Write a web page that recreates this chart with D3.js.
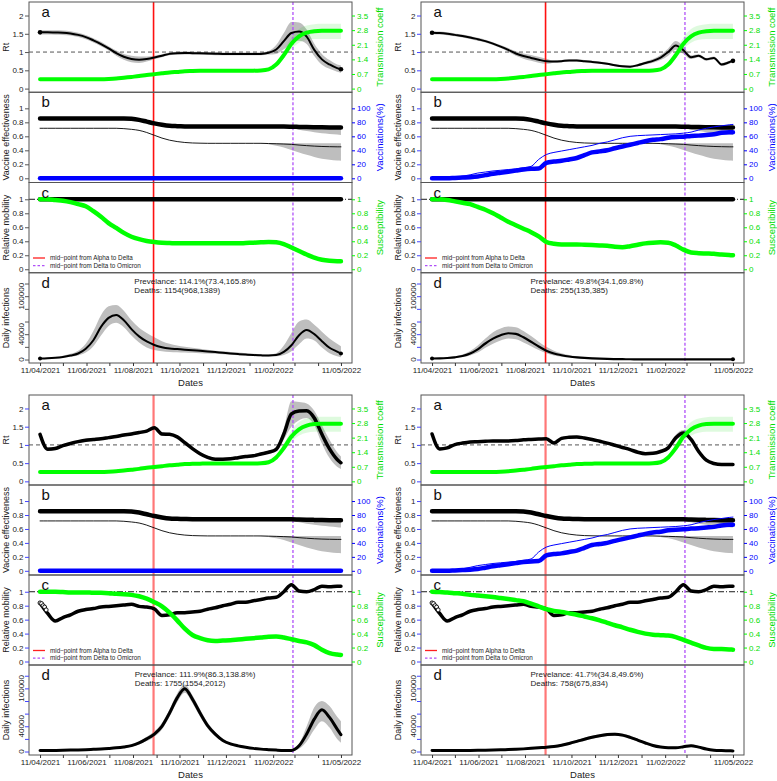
<!DOCTYPE html>
<html>
<head>
<meta charset="utf-8">
<script src="https://cdn.jsdelivr.net/npm/d3@7/dist/d3.min.js"></script>
<style>
html,body{margin:0;padding:0;background:#fff;}
svg{display:block;font-family:"Liberation Sans",Arial,Helvetica,sans-serif;}
</style>
</head>
<body>
<svg id="chart" width="777" height="781"></svg>
<script>
// ================= DATA =================
const seriesStart = "2021-04-11";
// days since seriesStart
const days = [0,10,20,30,40,50,60,70,80,90,100,110,120,130,140,150,160,170,180,190,200,210,220,230,240,250,260,270,280,290,300,310,320,330,340,350,360,370,380,390,395];

// transmission coefficient (shared)
const transCoef = [0.45,0.45,0.45,0.45,0.45,0.45,0.45,0.45,0.45,0.46,0.48,0.52,0.56,0.60,0.65,0.69,0.73,0.77,0.80,0.83,0.84,0.85,0.86,0.86,0.86,0.86,0.86,0.86,0.86,0.87,0.92,1.15,1.60,2.15,2.50,2.68,2.75,2.77,2.77,2.77,2.77];
const tcBandDays = [290,300,310,320,330,340,350,360,370,380,390,395];
const tcBandLo = [0.87,0.90,1.08,1.45,1.90,2.20,2.34,2.38,2.38,2.38,2.38,2.38];
const tcBandHi = [0.87,0.95,1.25,1.80,2.45,2.85,3.02,3.08,3.10,3.10,3.10,3.10];

// vaccine effectiveness (shared)
const veHigh = [0.855,0.855,0.855,0.855,0.855,0.855,0.855,0.855,0.855,0.855,0.855,0.855,0.85,0.835,0.81,0.785,0.765,0.75,0.745,0.742,0.74,0.74,0.74,0.74,0.74,0.74,0.74,0.74,0.74,0.74,0.74,0.74,0.74,0.738,0.735,0.732,0.73,0.728,0.726,0.725,0.725];
const veBandDays = [300,310,320,330,340,350,360,370,380,390,395];
const veHighLo = [0.74,0.738,0.73,0.715,0.695,0.675,0.66,0.645,0.635,0.625,0.62];
const veHighHi = [0.74,0.742,0.745,0.748,0.75,0.75,0.75,0.75,0.75,0.75,0.75];
const veLow = [0.715,0.715,0.715,0.715,0.715,0.715,0.715,0.715,0.715,0.715,0.715,0.71,0.70,0.685,0.655,0.615,0.575,0.545,0.525,0.512,0.505,0.502,0.50,0.50,0.50,0.50,0.50,0.50,0.50,0.50,0.497,0.494,0.49,0.485,0.475,0.467,0.46,0.455,0.452,0.45,0.45];
const veLowBandDays = [280,290,300,310,320,330,340,350,360,370,380,390,395];
const veLowLo = [0.50,0.497,0.485,0.465,0.44,0.405,0.37,0.335,0.305,0.28,0.265,0.255,0.252];
const veLowHi = [0.50,0.50,0.50,0.50,0.50,0.50,0.50,0.50,0.50,0.50,0.50,0.50,0.50];

// vaccinations (%) for right-hand scenarios
const vaccThick = [0,0,0,0.5,1,1.5,2.5,4.5,6.5,8,9.5,11,12.5,13.5,14,22,24,25,27,29,33,37,38.5,40,43,45.5,48,50.5,53,55,56,58,59,59.5,60.5,61,62,63,65,66,66];
const vaccThin = [0,0.3,0.8,1.5,3,5,7.5,9,10.5,11.5,12.5,13.5,15,17,27,34,37,39,41,43,45,47,50,52,55,58,60,61,61.5,62,62.5,63,63.5,64.5,66,69,71.5,73.5,75,76.5,77];
const vaccZeroDays = [0,395];
const vaccZero = [0,0];

// relative mobility
const mobilityFlatDays = [0,395];
const mobilityFlat = [1,1];
const mobilityObs = [0.84,0.69,0.58,0.63,0.67,0.72,0.745,0.76,0.78,0.79,0.80,0.81,0.82,0.79,0.78,0.755,0.66,0.67,0.70,0.70,0.71,0.72,0.75,0.77,0.80,0.82,0.85,0.85,0.87,0.89,0.91,0.92,1.00,1.10,1.01,1.00,1.03,1.08,1.07,1.08,1.08];
const mobilityEarlyDays = [0,2,4,6,8];
const mobilityEarly = [0.84,0.83,0.80,0.78,0.74];

// susceptibility per scenario
const suscTL = [1.0,1.0,0.99,0.98,0.96,0.93,0.90,0.83,0.75,0.66,0.59,0.52,0.465,0.43,0.405,0.39,0.38,0.375,0.37,0.37,0.37,0.37,0.37,0.37,0.37,0.37,0.37,0.375,0.38,0.385,0.39,0.385,0.36,0.31,0.26,0.21,0.165,0.135,0.12,0.115,0.115];
const suscTR = [1.0,1.0,0.99,0.97,0.95,0.93,0.89,0.85,0.80,0.74,0.68,0.63,0.58,0.53,0.47,0.39,0.365,0.355,0.355,0.355,0.35,0.345,0.34,0.335,0.32,0.315,0.33,0.35,0.37,0.38,0.385,0.38,0.34,0.28,0.24,0.23,0.225,0.22,0.21,0.205,0.2];
const suscBL = [1.0,1.0,1.0,0.995,0.99,0.99,0.99,0.985,0.985,0.98,0.97,0.965,0.955,0.935,0.90,0.85,0.79,0.70,0.59,0.47,0.38,0.335,0.305,0.295,0.30,0.305,0.315,0.325,0.335,0.345,0.355,0.36,0.345,0.32,0.295,0.275,0.235,0.17,0.12,0.10,0.095];
const suscBR = [1.0,0.995,0.99,0.98,0.97,0.955,0.945,0.935,0.925,0.91,0.895,0.88,0.865,0.83,0.79,0.75,0.725,0.71,0.69,0.67,0.645,0.62,0.59,0.555,0.52,0.49,0.455,0.425,0.40,0.385,0.378,0.372,0.35,0.31,0.27,0.23,0.195,0.18,0.178,0.172,0.17];

// Rt per scenario, with half-width of uncertainty band
const rtTL = [1.54,1.54,1.535,1.53,1.51,1.47,1.41,1.32,1.22,1.10,0.97,0.87,0.81,0.79,0.81,0.85,0.90,0.95,0.97,0.975,0.97,0.965,0.96,0.955,0.95,0.95,0.95,0.95,0.95,0.95,0.98,1.07,1.30,1.52,1.56,1.42,1.06,0.80,0.66,0.56,0.53];
const rtTLspread = [0.06,0.06,0.06,0.06,0.06,0.06,0.06,0.06,0.06,0.06,0.07,0.08,0.09,0.09,0.07,0.05,0.04,0.04,0.04,0.04,0.04,0.04,0.04,0.04,0.04,0.04,0.04,0.04,0.04,0.04,0.05,0.12,0.22,0.30,0.25,0.20,0.17,0.15,0.12,0.10,0.10];
const rtTR = [1.53,1.52,1.50,1.47,1.44,1.40,1.35,1.30,1.23,1.15,1.06,0.96,0.89,0.84,0.79,0.75,0.74,0.75,0.77,0.77,0.75,0.73,0.71,0.68,0.64,0.61,0.60,0.64,0.70,0.76,0.85,1.00,1.18,1.05,0.86,0.90,0.80,0.84,0.66,0.72,0.76];
const rtTRspread = [0.04,0.04,0.04,0.04,0.04,0.04,0.04,0.04,0.04,0.04,0.05,0.06,0.07,0.08,0.08,0.07,0.03,0.03,0.03,0.03,0.03,0.03,0.03,0.03,0.03,0.03,0.03,0.03,0.04,0.05,0.07,0.10,0.12,0.10,0.05,0.04,0.04,0.04,0.04,0.04,0.04];
const rtBL = [1.29,0.88,0.90,0.98,1.04,1.09,1.13,1.15,1.17,1.20,1.23,1.27,1.30,1.34,1.38,1.47,1.30,1.29,1.22,1.06,0.90,0.76,0.66,0.61,0.61,0.62,0.65,0.68,0.70,0.75,0.80,0.88,1.30,1.85,1.93,1.94,1.74,1.29,0.89,0.60,0.51];
const rtBLspread = [0.06,0.05,0.04,0.04,0.04,0.04,0.04,0.04,0.04,0.04,0.04,0.04,0.04,0.04,0.04,0.05,0.05,0.04,0.04,0.04,0.04,0.04,0.04,0.04,0.04,0.04,0.04,0.04,0.04,0.04,0.04,0.06,0.15,0.35,0.25,0.20,0.20,0.25,0.25,0.20,0.17];
const rtBR = [1.30,0.89,0.92,1.01,1.05,1.08,1.09,1.10,1.11,1.11,1.11,1.12,1.14,1.15,1.16,1.17,1.05,1.18,1.21,1.22,1.19,1.15,1.10,1.05,0.99,0.93,0.87,0.80,0.76,0.77,0.82,0.92,1.20,1.33,1.15,0.82,0.58,0.49,0.46,0.46,0.46];
const rtBRspread = [0.05,0.04,0.03,0.03,0.03,0.03,0.03,0.03,0.03,0.03,0.03,0.03,0.03,0.03,0.03,0.03,0.03,0.03,0.03,0.03,0.03,0.03,0.03,0.03,0.03,0.03,0.03,0.03,0.03,0.03,0.04,0.05,0.08,0.08,0.06,0.04,0.03,0.03,0.03,0.03,0.03];

// daily infections per scenario
const infTL = [1600,2000,2800,4100,6300,9500,17000,30500,51500,65700,70400,62000,48000,36500,28500,23000,19500,17500,16500,15500,14700,13700,12700,11700,10600,9500,8600,7800,7100,6600,6300,7000,12000,22600,38400,46500,40000,29000,18500,12500,9500];
const infTLlo = [800,1200,1800,2800,4300,6500,11000,21000,38000,53000,58000,51000,38000,27000,19000,15000,13000,12000,11500,11000,10500,10000,9500,9000,8200,7500,6800,6000,5500,5000,4800,5000,7000,13000,24000,33000,30000,19000,10000,5000,3500];
const infTLhi = [2500,3000,4000,6000,9000,14000,25000,45000,70000,84000,86000,77000,62000,50000,42000,35000,29000,25000,22000,20000,18500,17000,15500,14000,13000,12000,11000,10000,9000,8500,8000,10000,22000,42000,60000,63000,55000,44000,33000,25000,21000];
const infTR = [1600,1800,2400,3500,5500,9500,16000,25300,33000,38400,41500,40500,35000,28000,20500,14000,9500,6800,4800,3500,2600,1900,1300,900,700,500,400,350,300,300,280,280,270,260,260,250,250,250,250,250,250];
const infTRlo = [1100,1300,1700,2400,3800,6500,11000,18500,25000,30000,33000,32000,27000,21000,15000,10000,6500,4500,3200,2300,1700,1200,800,500,350,200,200,200,150,150,150,150,150,150,150,150,150,150,150,150,150];
const infTRhi = [2200,2500,3300,5000,8000,13500,22000,33000,43000,49000,52000,51000,45000,37000,28000,20000,14000,10000,7200,5300,4000,3000,2200,1600,1200,1000,900,800,700,650,600,600,600,600,600,600,600,600,600,600,600];
const infBL = [1500,1600,1800,2000,2300,2600,3000,3500,4000,4800,5800,7300,9400,13600,20000,27700,40000,61000,85000,99500,83000,61000,41000,27500,17500,12000,9000,6800,5000,3800,3000,2300,1800,1700,9000,27700,51300,66000,54000,35600,26700];
const infBLlo = [1000,1100,1300,1500,1700,2000,2300,2700,3100,3800,4600,5900,7700,11200,16500,23500,35000,55000,78000,93000,77000,55500,36500,24000,15000,10000,7300,5400,3900,2900,2200,1600,1200,1000,4500,16000,35000,48000,38000,20000,14000];
const infBLhi = [2000,2100,2300,2500,2900,3200,3700,4300,4900,5800,7000,8700,11100,16000,23500,32000,45000,67000,92000,106000,89000,67000,46000,31000,20000,14000,10700,8200,6100,4700,3800,3000,2400,2400,12000,40000,70000,80000,72000,55000,48000];
const infBR = [1600,1500,1500,1600,1700,1800,2000,2200,2500,2800,3100,3600,4200,5000,6000,6800,8000,10000,12800,16000,19500,22600,25000,26800,27400,26000,22500,18000,13500,9500,7000,5800,6000,7500,9300,7000,4000,2200,1500,1200,1000];
const infBRspread = [800,800,800,800,800,900,1000,1000,1100,1200,1300,1400,1500,1600,1700,1800,1900,2000,2100,2200,2300,2400,2500,2500,2500,2500,2400,2200,2000,1800,1600,1500,1500,1600,1700,1600,1400,1200,1000,900,800];

// axis ticks and labels
const xTickDates = ["2021-04-11","2021-05-11","2021-06-11","2021-07-11","2021-08-11","2021-09-11","2021-10-11","2021-11-11","2021-12-11","2022-01-11","2022-02-11","2022-03-11","2022-04-11","2022-05-11"];
const xTickLabels = ["11/04/2021","","11/06/2021","","11/08/2021","","11/10/2021","","11/12/2021","","11/02/2022","","","11/05/2022"];
const rtTicks = [0,0.5,1,1.5,2];
const tcTicks = [0,0.7,1.4,2.1,2.8,3.5];
const veTicks = [0,0.2,0.4,0.6,0.8,1];
const vaccTicks = [0,20,40,60,80,100];
const mobTicks = [0,0.2,0.4,0.6,0.8,1];
const suscTicks = [0,0.2,0.4,0.6,0.8,1];
const infTicks = [0,20000,40000,60000,80000,100000,120000];
const infTickLabels = ["0","","40000","","","100000",""];
const alphaDeltaMid = "2021-09-07";
const deltaOmicronMid = "2022-03-09";
const legendLabels = ["mid\u2212point from Alpha to Delta","mid\u2212point from Delta to Omicron"];
const panelLetters = ["a","b","c","d"];
const summaryTL = ["Prevelance: 114.1%(73.4,165.8%)","Deaths: 1154(968,1389)"];
const summaryTR = ["Prevelance: 49.8%(34.1,69.8%)","Deaths: 255(135,385)"];
const summaryBL = ["Prevelance: 111.9%(86.3,138.8%)","Deaths: 1755(1554,2012)"];
const summaryBR = ["Prevelance: 41.7%(34.8,49.6%)","Deaths: 758(675,834)"];

// ================= DRAWING =================
const svg = d3.select("#chart");
const parse = d3.utcParse("%Y-%m-%d");
const t0 = parse(seriesStart).getTime();
const dayDate = d => new Date(t0 + d * 864e5);

const GREEN = "#00ff00", GREEN_TXT = "#00dd00", BLUE = "#0000ff", BAND = "#bebebe", GBAND = "rgba(0,220,0,0.13)";
const TXT = "#222";
let clipId = 0;

const quads = [
  {x0:29, x1:352, y0:2, y1:363, rt:rtTL, rtS:rtTLspread, rtW:2, dots:true, vacc:false, mobFlat:true, susc:suscTL,
   inf:infTL, infLo:infTLlo, infHi:infTLhi, infW:2, summary:summaryTL, tick:"#555", redW:1.6, redCol:"#ff1010"},
  {x0:421, x1:744, y0:2, y1:363, rt:rtTR, rtS:rtTRspread, rtW:2, dots:true, vacc:true, mobFlat:true, susc:suscTR,
   inf:infTR, infLo:infTRlo, infHi:infTRhi, infW:2.2, summary:summaryTR, tick:"#4444ff", redW:1.6, redCol:"#ff1010"},
  {x0:29, x1:352, y0:395, y1:755, rt:rtBL, rtS:rtBLspread, rtW:3.5, dots:false, vacc:false, mobFlat:false, susc:suscBL,
   inf:infBL, infLo:infBLlo, infHi:infBLhi, infW:3, summary:summaryBL, tick:"#4444ff", redW:2.2, redCol:"#f77"},
  {x0:421, x1:744, y0:395, y1:755, rt:rtBR, rtS:rtBRspread, rtW:3.5, dots:false, vacc:true, mobFlat:false, susc:suscBR,
   inf:infBR, infSpread:infBRspread, infW:3, summary:summaryBR, tick:"#4444ff", redW:2.2, redCol:"#f77"}
];

function drawQuad(q){
  const g = svg.append("g");
  const x = d3.scaleUtc().domain([dayDate(-14.5), dayDate(409.5)]).range([q.x0, q.x1]);
  const h = (q.y1 - q.y0) / 4;
  const top = i => q.y0 + i * h;
  const mk = (i, dom) => d3.scaleLinear().domain(dom).range([top(i) + h, top(i)]);
  const yA = mk(0, [-0.1, 2.37]);
  const yAr = mk(0, [-0.1 * 1.75, 2.37 * 1.75]);
  const yB = mk(1, [-0.06, 1.23]);
  const yBr = mk(1, [-6, 123]);
  const yC = mk(2, [-0.05, 1.24]);
  const yD = mk(3, [-5500, 137000]);

  const panels = [0,1,2,3].map(i => {
    const id = "clip" + (clipId++);
    svg.append("clipPath").attr("id", id).append("rect")
      .attr("x", q.x0).attr("y", top(i)).attr("width", q.x1 - q.x0).attr("height", h);
    return g.append("g").attr("clip-path", `url(#${id})`);
  });

  const X = d => x(dayDate(d));
  const addLine = (p, xs, vals, yS, color, w) =>
    p.append("path")
      .attr("d", d3.line().x((v, i) => X(xs[i])).y(v => yS(v)).curve(d3.curveMonotoneX)(vals))
      .attr("fill", "none").attr("stroke", color).attr("stroke-width", w)
      .attr("stroke-linecap", "round").attr("stroke-linejoin", "round");
  const addBand = (p, xs, lo, hi, yS, fill) =>
    p.append("path")
      .attr("d", d3.area().x((v, i) => X(xs[i])).y0((v, i) => yS(lo[i])).y1((v, i) => yS(hi[i])).curve(d3.curveMonotoneX)(xs))
      .attr("fill", fill);
  const bandSpread = (p, xs, mid, s, yS, fill) =>
    addBand(p, xs, mid.map((v, i) => v - s[i]), mid.map((v, i) => v + s[i]), yS, fill);
  const hline = (p, yv, yS, color, dash, w) =>
    p.append("line").attr("x1", q.x0).attr("x2", q.x1).attr("y1", yS(yv)).attr("y2", yS(yv))
      .attr("stroke", color).attr("stroke-width", w).attr("stroke-dasharray", dash);
  const vlines = (p, i) => {
    const xr = x(parse(alphaDeltaMid)), xp = x(parse(deltaOmicronMid));
    p.append("line").attr("x1", xr).attr("x2", xr).attr("y1", top(i)).attr("y2", top(i) + h)
      .attr("stroke", q.redCol).attr("stroke-width", q.redW);
    p.append("line").attr("x1", xp).attr("x2", xp).attr("y1", top(i)).attr("y2", top(i) + h)
      .attr("stroke", "#b050f8").attr("stroke-width", 1.3).attr("stroke-dasharray", "3,2");
  };
  const dot = (p, d, v, yS, r) => p.append("circle").attr("cx", X(d)).attr("cy", yS(v)).attr("r", r).attr("fill", "#000");

  // ---- panel a ----
  const pa = panels[0];
  bandSpread(pa, days, q.rt, q.rtS, yA, BAND);
  addBand(pa, tcBandDays, tcBandLo, tcBandHi, yAr, GBAND);
  hline(pa, 1, yA, "#555", "4,3", 1);
  vlines(pa, 0);
  addLine(pa, days, q.rt, yA, "#000", q.rtW);
  if (q.dots) { dot(pa, days[0], q.rt[0], yA, 2.3); dot(pa, days[days.length-1], q.rt[q.rt.length-1], yA, 2.3); }
  addLine(pa, days, transCoef, yAr, GREEN, 4);

  // ---- panel b ----
  const pb = panels[1];
  addBand(pb, veBandDays, veHighLo, veHighHi, yB, BAND);
  addBand(pb, veLowBandDays, veLowLo, veLowHi, yB, BAND);
  vlines(pb, 1);
  addLine(pb, days, veHigh, yB, "#000", 4.5);
  addLine(pb, days, veLow, yB, "#000", 0.9);
  if (q.vacc) {
    addLine(pb, days, vaccThin, yBr, BLUE, 1);
    addLine(pb, days, vaccThick, yBr, BLUE, 4.5);
  } else {
    addLine(pb, vaccZeroDays, vaccZero, yBr, BLUE, 4.5);
  }

  // ---- panel c ----
  const pc = panels[2];
  hline(pc, 1, yC, "#000", "6,2,1,2", 0.9);
  vlines(pc, 2);
  if (q.mobFlat) {
    addLine(pc, mobilityFlatDays, mobilityFlat, yC, "#000", 4.5);
  } else {
    addLine(pc, days, mobilityObs, yC, "#000", 3.5);
    mobilityEarlyDays.forEach((d, i) => pc.append("circle").attr("cx", X(d)).attr("cy", yC(mobilityEarly[i]))
      .attr("r", 2).attr("fill", "#fff").attr("stroke", "#000").attr("stroke-width", 0.9));
  }
  addLine(pc, days, q.susc, yC, GREEN, 4.5);

  // ---- panel d ----
  const pd = panels[3];
  if (q.infSpread) bandSpread(pd, days, q.inf, q.infSpread, yD, BAND);
  else addBand(pd, days, q.infLo, q.infHi, yD, BAND);
  vlines(pd, 3);
  addLine(pd, days, q.inf, yD, "#000", q.infW);
  if (q.dots) { dot(pd, days[0], q.inf[0], yD, 2); dot(pd, days[days.length-1], q.inf[q.inf.length-1], yD, 2); }

  // ---- boxes ----
  [0,1,2,3].forEach(i => g.append("rect").attr("x", q.x0).attr("y", top(i)).attr("width", q.x1 - q.x0).attr("height", h)
    .attr("fill", "none").attr("stroke", "#555").attr("stroke-width", 1));

  // ---- axes ----
  const styleAxis = (a, tickColor, textColor) => {
    a.attr("font-family", null).attr("font-size", 8);
    a.select(".domain").remove();
    a.selectAll("line").attr("stroke", tickColor);
    a.selectAll("text").attr("fill", textColor);
  };
  const leftAxis = (yS, ticks, fmt) => {
    const a = g.append("g").attr("transform", `translate(${q.x0},0)`)
      .call(d3.axisLeft(yS).tickValues(ticks).tickSize(4).tickPadding(1.5).tickFormat(fmt || (d => String(d))));
    styleAxis(a, q.tick, TXT);
    return a;
  };
  const rightAxis = (yS, ticks, color) => {
    const a = g.append("g").attr("transform", `translate(${q.x1},0)`)
      .call(d3.axisRight(yS).tickValues(ticks).tickSize(3).tickPadding(2).tickFormat(d => String(d)));
    styleAxis(a, color, color === GREEN ? GREEN_TXT : color);
  };
  leftAxis(yA, rtTicks);
  leftAxis(yB, veTicks);
  leftAxis(yC, mobTicks);
  leftAxis(yD, infTicks, () => "");
  infTicks.forEach((v, i) => {
    if (!infTickLabels[i]) return;
    g.append("text").attr("transform", `translate(${q.x0 - 5},${yD(v)}) rotate(-90)`)
      .attr("text-anchor", "middle").attr("font-size", 8).attr("fill", TXT).text(infTickLabels[i]);
  });
  rightAxis(yAr, tcTicks, GREEN);
  rightAxis(yBr, vaccTicks, BLUE);
  rightAxis(yC, suscTicks, GREEN);

  const xa = g.append("g").attr("transform", `translate(0,${q.y1})`)
    .call(d3.axisBottom(x).tickValues(xTickDates.map(parse)).tickSize(3).tickPadding(1.5)
      .tickFormat((d, i) => xTickLabels[i]));
  styleAxis(xa, "#333", TXT);

  // ---- titles ----
  const leftTitles = ["Rt", "Vaccine effectiveness", "Relative mobility", "Daily infections"];
  leftTitles.forEach((t, i) => g.append("text")
    .attr("transform", `translate(${q.x0 - 20},${top(i) + h / 2}) rotate(-90)`)
    .attr("text-anchor", "middle").attr("font-size", 9).attr("fill", TXT).text(t));
  const rightTitles = [["Transmission coeff", GREEN_TXT], ["Vaccinations(%)", BLUE], ["Susceptibility", GREEN_TXT]];
  rightTitles.forEach((t, i) => g.append("text")
    .attr("transform", `translate(${q.x1 + 31},${top(i) + h / 2}) rotate(-90)`)
    .attr("text-anchor", "middle").attr("font-size", 9.5).attr("fill", t[1]).text(t[0]));
  g.append("text").attr("x", (q.x0 + q.x1) / 2).attr("y", q.y1 + 23).attr("text-anchor", "middle")
    .attr("font-size", 9.5).attr("fill", TXT).text("Dates");

  // panel letters
  panelLetters.forEach((L, i) => g.append("text").attr("x", q.x0 + 12.5).attr("y", top(i) + 15)
    .attr("font-size", 15).attr("fill", "#111").text(L));

  // legend in panel c
  const ly = top(2) + 75.5;
  [0, 1].forEach(k => {
    const yy = ly + k * 7.6;
    g.append("line").attr("x1", q.x0 + 4).attr("x2", q.x0 + 16).attr("y1", yy).attr("y2", yy)
      .attr("stroke", k === 0 ? "#ff2020" : "#b050f8").attr("stroke-width", 1.3)
      .attr("stroke-dasharray", k === 0 ? null : "2.5,2");
    g.append("text").attr("x", q.x0 + 21).attr("y", yy + 2.2).attr("font-size", 6.3).attr("fill", TXT).text(legendLabels[k]);
  });

  // summary text in panel d
  const st = q.summary.map((s, k) => g.append("text").attr("y", top(3) + 11.5 + k * 9)
    .attr("font-size", 8).attr("fill", TXT).text(s));
  const wmax = d3.max(st, s => s.node().getComputedTextLength());
  st.forEach(s => s.attr("x", q.x0 + 166 - wmax / 2));
}

quads.forEach(drawQuad);
</script>
</body>
</html>
